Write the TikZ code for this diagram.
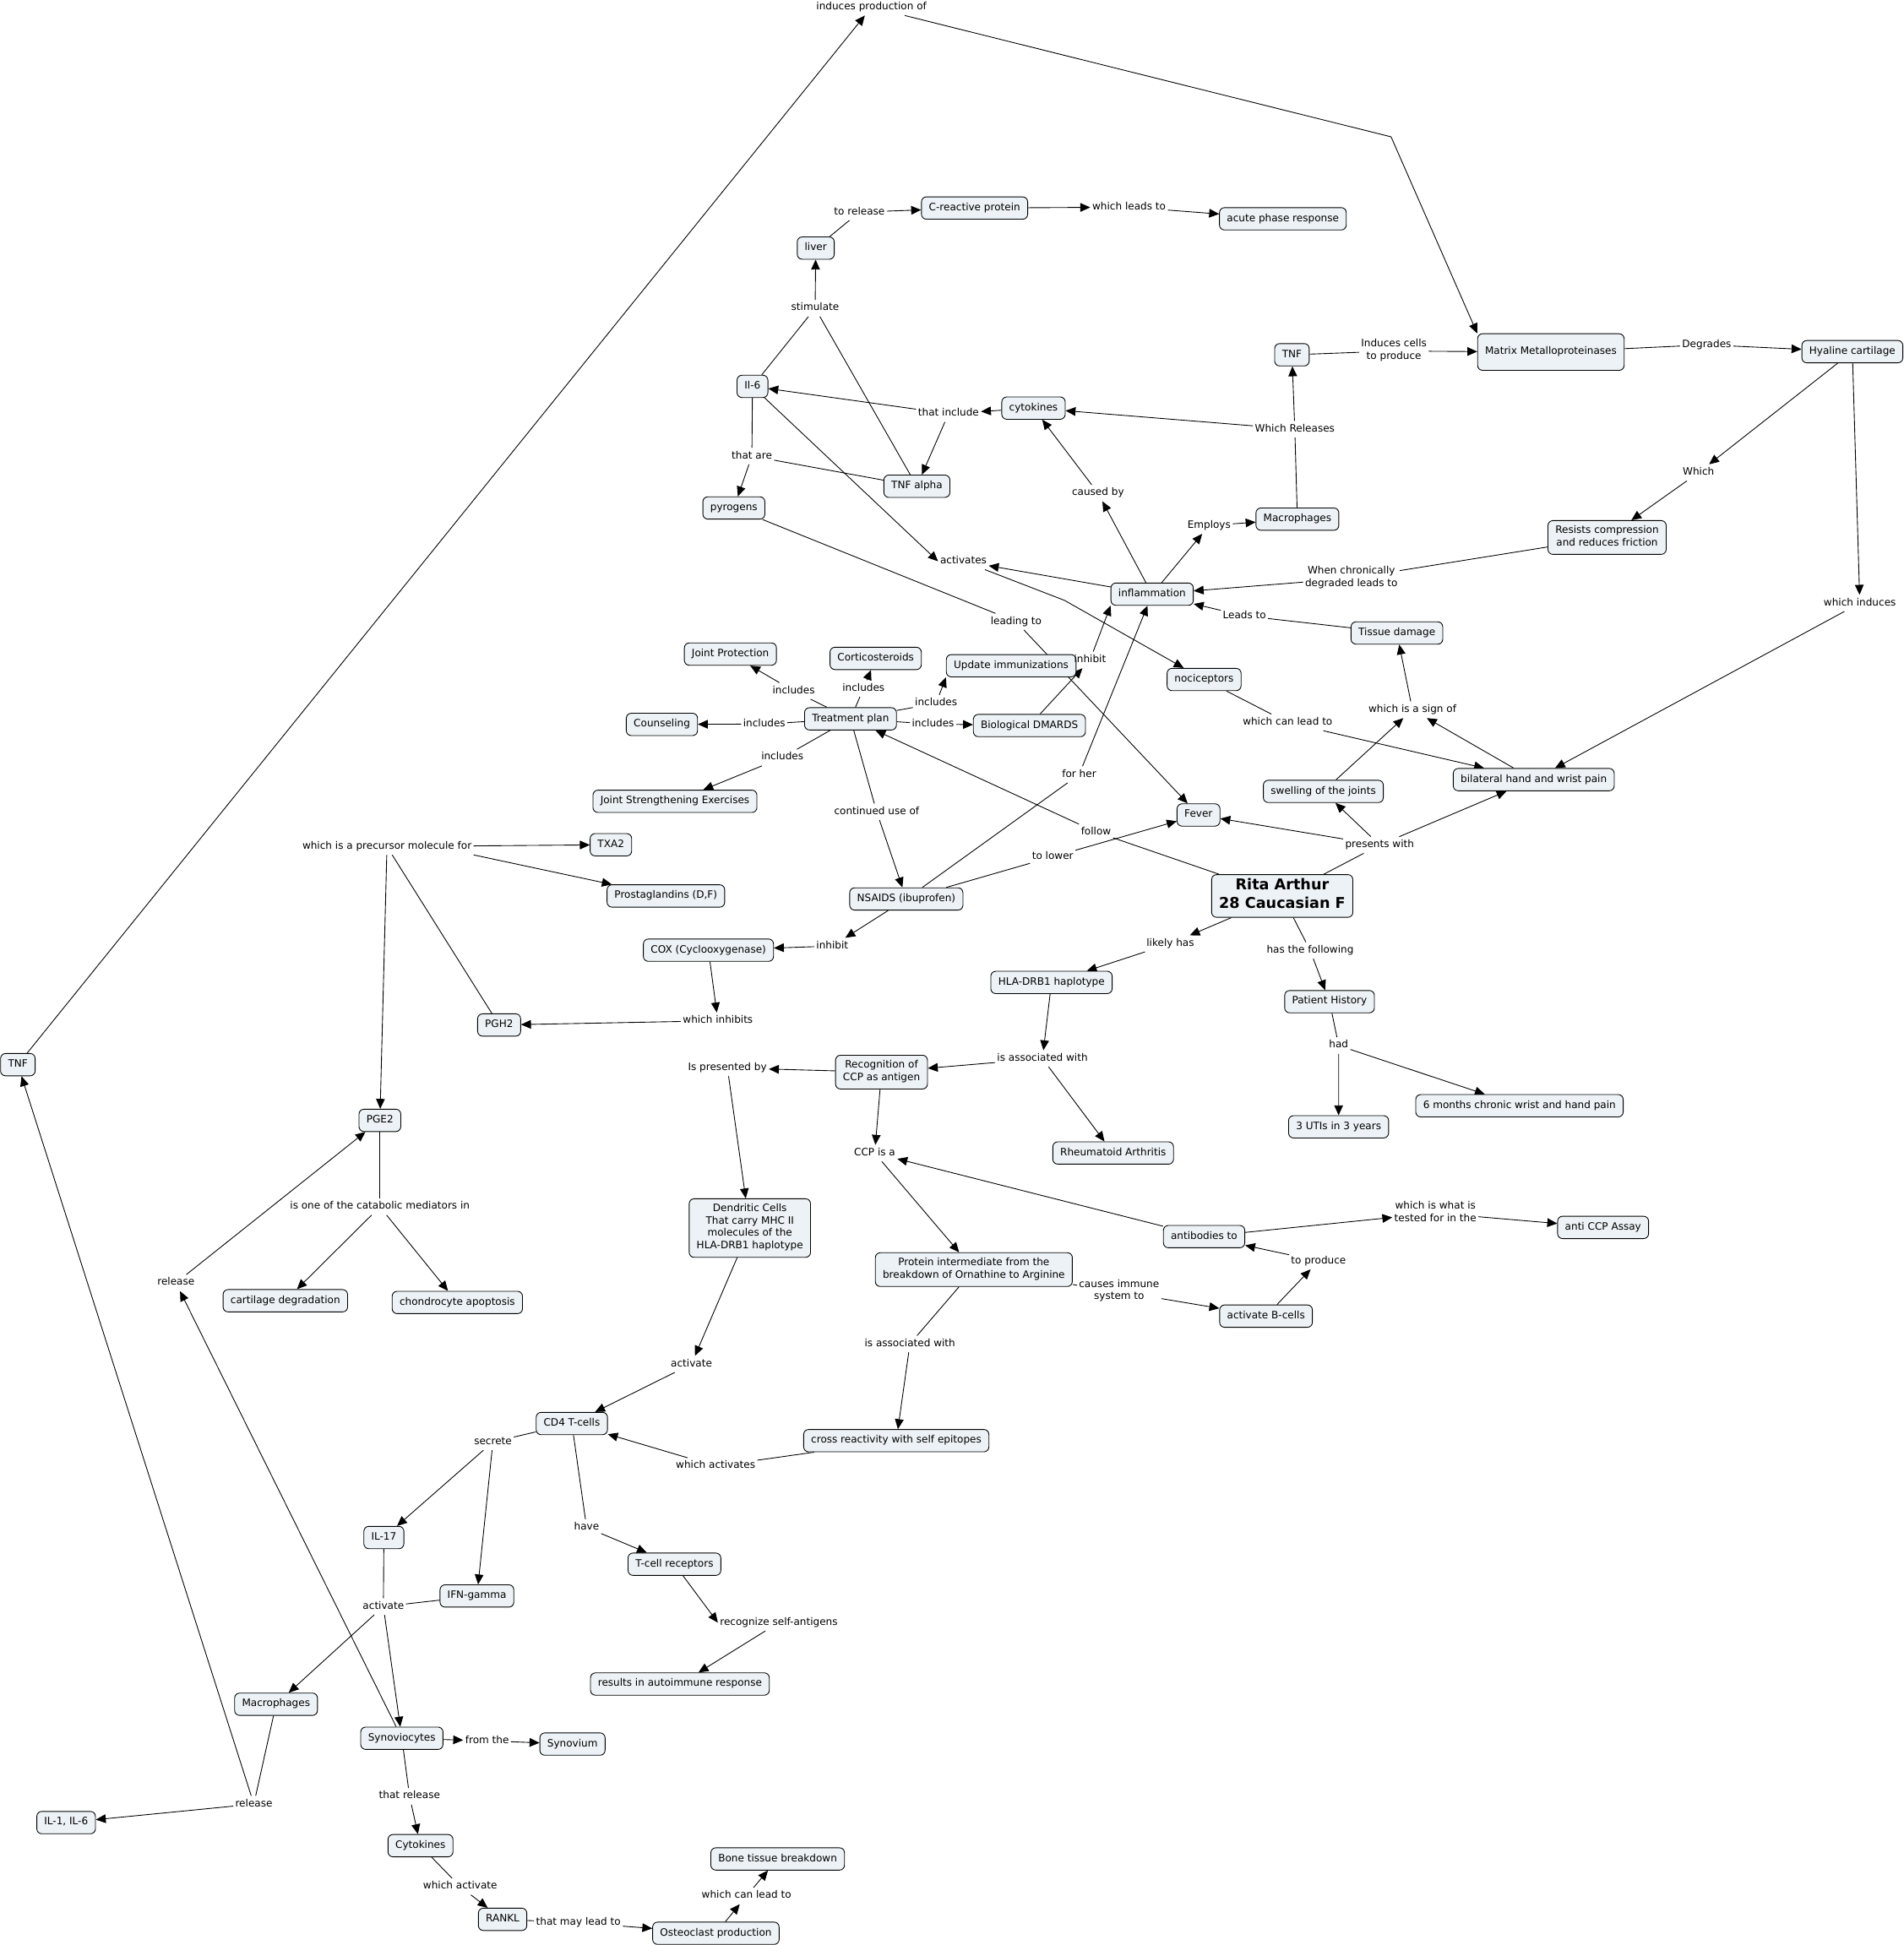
\documentclass[tikz,border=0pt]{standalone}
\usepackage{fontspec}
\setmainfont{DejaVu Sans}
\usetikzlibrary{arrows.meta,backgrounds}
\definecolor{cfill}{RGB}{236,242,245}
\newcommand\cmf{\fontsize{8.2}{10}\selectfont}
\newcommand\ritaf{\fontsize{12}{14.5}\selectfont\bfseries}
\tikzset{
  cn/.style={draw=black, line width=0.6pt, rounded corners=4pt, fill=cfill,
    inner xsep=6pt, inner ysep=4pt, align=center, font=\cmf,
    execute at begin node=\strut, execute at end node=\strut},
  rita/.style={cn, font=\ritaf, inner ysep=2.5pt, minimum width=113pt, minimum height=34.4pt},
  lp/.style={inner sep=1.5pt, align=center, font=\cmf,
    execute at begin node=\strut, execute at end node=\strut},
  ln/.style={line width=0.6pt},
  ar/.style={line width=0.6pt, -{Triangle[length=8pt,width=7pt]}},
}
\begin{document}
\begin{tikzpicture}[x=1pt,y=-1pt]
\useasboundingbox (0,0) rectangle (1534,1568);
\begin{scope}[yshift=-1pt]
% concepts
\node[cn] (liver) at (657.5,199) {liver};
\node[cn] (crp) at (785.5,166.7) {C-reactive protein};
\node[cn] (apr) at (1034,175.4) {acute phase response};
\node[cn] (il6) at (606.5,310.5) {Il-6};
\node[cn] (cyto) at (833,328) {cytokines};
\node[cn] (tnfa) at (739,391) {TNF alpha};
\node[cn] (pyro) at (591.5,408.5) {pyrogens};
\node[cn] (tnfr) at (1041.3,285) {TNF};
\node[cn, minimum width=116pt, minimum height=29.5pt] (mmp) at (1250,282.8) {Matrix Metalloproteinases};
\node[cn] (hyal) at (1493,282.5) {Hyaline cartilage};
\node[cn] (mac1) at (1045.7,417.5) {Macrophages};
\node[cn] (resist) at (1295.3,432.3) {Resists compression\\and reduces friction};
\node[cn] (infl) at (928.6,478) {inflammation};
\node[cn] (tissue) at (1125.9,509.3) {Tissue damage};
\node[cn] (noci) at (970.5,546.8) {nociceptors};
\node[cn] (jp) at (588.7,526.3) {Joint Protection};
\node[cn] (cort) at (705.8,529.8) {Corticosteroids};
\node[cn] (upd) at (815,535.7) {Update immunizations};
\node[cn] (couns) at (533.5,583) {Counseling};
\node[cn] (tp) at (685.5,578.5) {Treatment plan};
\node[cn] (bd) at (829.7,583.9) {Biological DMARDS};
\node[cn] (js) at (544,645) {Joint Strengthening Exercises};
\node[cn] (swell) at (1066.6,637) {swelling of the joints};
\node[cn] (bilat) at (1236.2,627.5) {bilateral hand and wrist pain};
\node[cn] (fever) at (966,656) {Fever};
\node[cn] (txa) at (492.4,680) {TXA2};
\node[cn] (pgdf) at (536.7,721.3) {Prostaglandins (D,F)};
\node[cn] (nsaid) at (730.5,723.7) {NSAIDS (ibuprofen)};
\node[rita] (rita) at (1033.5,721.3) {Rita Arthur\\28 Caucasian F};
\node[cn] (cox) at (571,765) {COX (Cyclooxygenase)};
\node[cn] (hla) at (847.5,791) {HLA-DRB1 haplotype};
\node[cn] (ph) at (1071.6,806.5) {Patient History};
\node[cn] (pgh) at (402.3,825.3) {PGH2};
\node[cn] (tnfl) at (14.4,857.3) {TNF};
\node[cn] (recog) at (710.5,863.3) {Recognition of\\CCP as antigen};
\node[cn] (sixmo) at (1224.7,890.4) {6 months chronic wrist and hand pain};
\node[cn] (pge) at (306.2,902.2) {PGE2};
\node[cn] (uti) at (1078.9,907.4) {3 UTIs in 3 years};
\node[cn] (ra) at (897.2,928.5) {Rheumatoid Arthritis};
\node[cn] (dend) at (604.4,989) {Dendritic Cells\\That carry MHC II\\molecules of the\\HLA-DRB1 haplotype};
\node[cn] (ab) at (970.5,995.9) {antibodies to};
\node[cn] (assay) at (1292.1,988.5) {anti CCP Assay};
\node[cn] (prot) at (784.9,1022.5) {Protein intermediate from the\\breakdown of Ornathine to Arginine};
\node[cn] (cart) at (230,1047.6) {cartilage degradation};
\node[cn] (chon) at (368.6,1049) {chondrocyte apoptosis};
\node[cn] (bcell) at (1020.4,1060) {activate B-cells};
\node[cn] (cd4) at (460.9,1146.6) {CD4 T-cells};
\node[cn] (cross) at (722.4,1160.4) {cross reactivity with self epitopes};
\node[cn] (il17) at (309.4,1238.5) {IL-17};
\node[cn] (tcr) at (543.6,1260) {T-cell receptors};
\node[cn] (ifn) at (384.4,1285.6) {IFN-gamma};
\node[cn] (res) at (548,1356.6) {results in autoimmune response};
\node[cn] (mac2) at (222.5,1372.9) {Macrophages};
\node[cn] (syno) at (323.9,1400.3) {Synoviocytes};
\node[cn] (synov) at (461.4,1405) {Synovium};
\node[cn] (il16) at (53.3,1468.3) {IL-1, IL-6};
\node[cn] (cyto2) at (338.9,1486.9) {Cytokines};
\node[cn] (bone) at (626.8,1497.6) {Bone tissue breakdown};
\node[cn] (rankl) at (405.1,1546.3) {RANKL};
\node[cn] (osteo) at (577,1557.5) {Osteoclast production};
% linking phrases
\node[lp] (l1) at (702.4,4.8) {induces production of};
\node[lp] (l2) at (692.7,170) {to release};
\node[lp] (l3) at (910,166) {which leads to};
\node[lp] (l4) at (657,247.5) {stimulate};
\node[lp] (l5) at (764.5,332.5) {that include};
\node[lp] (l6) at (606,366.7) {that are};
\node[lp] (l7) at (1043.6,345) {Which Releases};
\node[lp] (l8) at (1123.5,282) {Induces cells\\to produce};
\node[lp] (l9) at (1375.6,277) {Degrades};
\node[lp] (l10) at (1369,380) {Which};
\node[lp] (l11) at (885,396.5) {caused by};
\node[lp] (l12) at (974.5,422.7) {Employs};
\node[lp] (l13) at (776.5,451.5) {activates};
\node[lp] (l14) at (1089.2,465.2) {When chronically\\degraded leads to};
\node[lp] (l15) at (1499,485.2) {which induces};
\node[lp] (l16) at (1003,495.5) {Leads to};
\node[lp] (l17) at (819,500.2) {leading to};
\node[lp] (l18) at (878.6,531) {inhibit};
\node[lp] (l19) at (639.7,556) {includes};
\node[lp] (l20) at (696,554) {includes};
\node[lp] (l21) at (754.5,566) {includes};
\node[lp] (l22) at (616,582.7) {includes};
\node[lp] (l23) at (752,582.7) {includes};
\node[lp] (l24) at (630.6,609.7) {includes};
\node[lp] (l25) at (1138.4,571.2) {which is a sign of};
\node[lp] (l26) at (1037.8,581.4) {which can lead to};
\node[lp] (l27) at (869.8,623.4) {for her};
\node[lp] (l28) at (706.6,653.5) {continued use of};
\node[lp] (l29) at (883.4,669.7) {follow};
\node[lp] (l30) at (1112,680.2) {presents with};
\node[lp] (l31) at (848.5,689.7) {to lower};
\node[lp] (l32) at (311.9,681.5) {which is a precursor molecule for};
\node[lp] (l33) at (943.3,759.7) {likely has};
\node[lp] (l34) at (670.8,761.7) {inhibit};
\node[lp] (l35) at (1056,765.2) {has the following};
\node[lp] (l36) at (578.6,821.9) {which inhibits};
\node[lp] (l37) at (1079,841.9) {had};
\node[lp] (l38) at (840.2,852.4) {is associated with};
\node[lp] (l39) at (586.3,859.9) {Is presented by};
\node[lp] (l40) at (705,928.6) {CCP is a};
\node[lp] (l41) at (306.2,971.9) {is one of the catabolic mediators in};
\node[lp] (l42) at (1156.9,976.9) {which is what is\\tested for in the};
\node[lp] (l43) at (1062.7,1015.6) {to produce};
\node[lp] (l44) at (141.8,1033.2) {release};
\node[lp] (l45) at (902,1040.2) {causes immune\\system to};
\node[lp] (l46) at (733.4,1082.4) {is associated with};
\node[lp] (l47) at (557.3,1098.7) {activate};
\node[lp] (l48) at (576.8,1180.9) {which activates};
\node[lp] (l49) at (397.3,1161.4) {secrete};
\node[lp] (l50) at (472.8,1230.4) {have};
\node[lp] (l51) at (309,1294.1) {activate};
\node[lp] (l52) at (627.7,1307.1) {recognize self-antigens};
\node[lp] (l53) at (392.6,1402.4) {from the};
\node[lp] (l54) at (204.6,1453.4) {release};
\node[lp] (l55) at (330.1,1447.1) {that release};
\node[lp] (l56) at (370.9,1519.9) {which activate};
\node[lp] (l57) at (601.7,1527.4) {which can lead to};
\node[lp] (l58) at (466.2,1549.1) {that may lead to};
\coordinate (bend1) at (1121.2,109.3);
\coordinate (bend2) at (858,483);
\begin{scope}[on background layer]
\draw[ar] (tnfl) -- (l1);
\draw[ar] (l1) -- (bend1) -- (mmp.north west);
\draw[ln] (liver) -- (l2); \draw[ar] (l2) -- (crp);
\draw[ar] (crp) -- (l3); \draw[ar] (l3) -- (apr);
\draw[ar] (l4) -- (liver); \draw[ln] (il6) -- (l4); \draw[ln] (tnfa) -- (l4);
\draw[ar] (cyto) -- (l5); \draw[ar] (l5) -- (il6); \draw[ar] (l5) -- (tnfa);
\draw[ln] (il6) -- (l6); \draw[ar] (l6) -- (pyro); \draw[ln] (tnfa) -- (l6);
\draw[ar] (il6) -- (l13.west);
\draw[ar] (infl) -- (l13);
\draw[ar] (l13) -- (bend2) -- (noci);
\draw[ln] (pyro) -- (l17); \draw[ar] (l17) -- (fever);
\draw[ar] (infl) -- (l11); \draw[ar] (l11) -- (cyto);
\draw[ar] (infl) -- (l12); \draw[ar] (l12) -- (mac1);
\draw[ln] (mac1) -- (l7); \draw[ar] (l7) -- (tnfr); \draw[ar] (l7) -- (cyto);
\draw[ln] (tnfr) -- (l8); \draw[ar] (l8) -- (mmp);
\draw[ln] (mmp) -- (l9); \draw[ar] (l9) -- (hyal);
\draw[ar] (hyal) -- (l10); \draw[ar] (l10) -- (resist);
\draw[ar] (hyal) -- (l15); \draw[ar] (l15) -- (bilat);
\draw[ln] (resist) -- (l14); \draw[ar] (l14) -- (infl);
\draw[ln] (tissue) -- (l16); \draw[ar] (l16) -- (infl);
\draw[ln] (nsaid) -- (l27); \draw[ar] (l27) -- (infl);
\draw[ar] (bd) -- (l18); \draw[ar] (l18) -- (infl.south west);
\draw[ln] (nsaid) -- (l31); \draw[ar] (l31) -- (fever);
\draw[ln] (rita) -- (l29); \draw[ar] (l29) -- (tp);
\draw[ln] (rita) -- (l30); \draw[ar] (l30) -- (fever); \draw[ar] (l30) -- (swell); \draw[ar] (l30) -- (bilat);
\draw[ar] (swell) -- (l25); \draw[ar] (bilat) -- (l25); \draw[ar] (l25) -- (tissue);
\draw[ln] (noci) -- (l26); \draw[ar] (l26) -- (bilat);
\draw[ln] (tp) -- (l19); \draw[ar] (l19) -- (jp);
\draw[ln] (tp) -- (l20); \draw[ar] (l20) -- (cort);
\draw[ln] (tp) -- (l21); \draw[ar] (l21) -- (upd.south west);
\draw[ln] (tp) -- (l22); \draw[ar] (l22) -- (couns);
\draw[ln] (tp) -- (l23); \draw[ar] (l23) -- (bd);
\draw[ln] (tp) -- (l24); \draw[ar] (l24) -- (js);
\draw[ln] (tp) -- (l28); \draw[ar] (l28) -- (nsaid);
\draw[ar] (nsaid) -- (l34); \draw[ar] (l34) -- (cox);
\draw[ar] (cox) -- (l36); \draw[ar] (l36) -- (pgh);
\draw[ln] (pgh) -- (l32); \draw[ar] (l32) -- (txa); \draw[ar] (l32.south east) -- (pgdf); \draw[ar] (l32) -- (pge);
\draw[ln] (pge) -- (l41); \draw[ar] (l41) -- (cart); \draw[ar] (l41) -- (chon);
\draw[ar] (syno) -- (l44); \draw[ar] (l44) -- (pge);
\draw[ln] (mac2) -- (l54); \draw[ar] (l54) -- (il16); \draw[ar] (l54) -- (tnfl);
\draw[ar] (rita) -- (l33); \draw[ar] (l33) -- (hla);
\draw[ln] (rita) -- (l35); \draw[ar] (l35) -- (ph);
\draw[ln] (ph) -- (l37); \draw[ar] (l37) -- (uti); \draw[ar] (l37) -- (sixmo);
\draw[ar] (hla) -- (l38); \draw[ar] (l38) -- (recog); \draw[ar] (l38) -- (ra);
\draw[ar] (recog) -- (l39); \draw[ar] (l39) -- (dend);
\draw[ar] (recog) -- (l40); \draw[ar] (l40) -- (prot);
\draw[ar] (ab) -- (l40);
\draw[ar] (ab) -- (l42); \draw[ar] (l42) -- (assay);
\draw[ar] (bcell) -- (l43); \draw[ar] (l43) -- (ab);
\draw[ln] (prot) -- (l45); \draw[ar] (l45) -- (bcell);
\draw[ln] (prot) -- (l46); \draw[ar] (l46) -- (cross);
\draw[ln] (cross) -- (l48); \draw[ar] (l48) -- (cd4);
\draw[ar] (dend) -- (l47); \draw[ar] (l47) -- (cd4);
\draw[ln] (cd4) -- (l49); \draw[ar] (l49) -- (il17); \draw[ar] (l49) -- (ifn);
\draw[ln] (cd4) -- (l50); \draw[ar] (l50) -- (tcr);
\draw[ar] (tcr) -- (l52.west); \draw[ar] (l52) -- (res);
\draw[ln] (il17) -- (l51); \draw[ln] (ifn) -- (l51); \draw[ar] (l51) -- (mac2); \draw[ar] (l51) -- (syno);
\draw[ar] (syno) -- (l53); \draw[ar] (l53) -- (synov);
\draw[ln] (syno) -- (l55); \draw[ar] (l55) -- (cyto2);
\draw[ln] (cyto2) -- (l56); \draw[ar] (l56) -- (rankl);
\draw[ln] (rankl) -- (l58); \draw[ar] (l58) -- (osteo);
\draw[ar] (osteo) -- (l57); \draw[ar] (l57) -- (bone);
\end{scope}
\end{scope}
\end{tikzpicture}
\end{document}
